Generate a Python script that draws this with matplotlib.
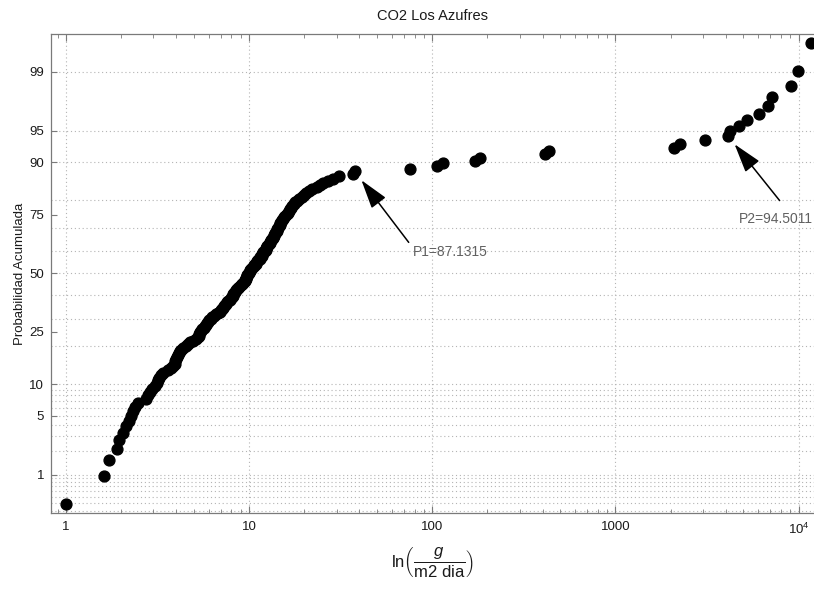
import numpy as np
import matplotlib
matplotlib.use("Agg")
import matplotlib.pyplot as plt
from matplotlib.ticker import FixedLocator, FixedFormatter, LogLocator, NullFormatter
from statistics import NormalDist

plt.rcParams['font.family'] = ['Liberation Sans', 'DejaVu Sans']
plt.rcParams['mathtext.fontset'] = 'custom'
plt.rcParams['mathtext.rm'] = 'Liberation Sans'
plt.rcParams['mathtext.it'] = 'Liberation Sans:italic'

# Sorted CO2 flux values (g / m2 dia)
flux = [
    1.00, 1.61, 1.72, 1.90, 1.95, 2.05, 2.13, 2.21, 2.27, 2.33,
    2.39, 2.48, 2.74, 2.81, 2.88, 2.96, 3.07, 3.15, 3.19, 3.23,
    3.31, 3.40, 3.62, 3.76, 3.85, 3.95, 3.95, 4.00, 4.05, 4.10,
    4.16, 4.21, 4.26, 4.37, 4.54, 4.65, 4.77, 4.96, 5.15, 5.28,
    5.35, 5.35, 5.41, 5.48, 5.55, 5.69, 5.77, 5.84, 5.91, 5.99,
    6.06, 6.22, 6.30, 6.46, 6.62, 6.79, 6.97, 7.05, 7.14, 7.23,
    7.33, 7.42, 7.51, 7.61, 7.70, 7.90, 8.00, 8.10, 8.21, 8.21,
    8.31, 8.41, 8.52, 8.63, 8.74, 8.85, 9.08, 9.19, 9.31, 9.43,
    9.54, 9.67, 9.67, 9.79, 9.79, 9.91, 10.04, 10.16, 10.16, 10.29,
    10.42, 10.56, 10.69, 10.83, 10.96, 11.10, 11.24, 11.39, 11.53, 11.68,
    11.68, 11.82, 11.97, 12.13, 12.28, 12.28, 12.44, 12.59, 12.76, 12.92,
    12.92, 13.08, 13.25, 13.42, 13.59, 13.59, 13.76, 13.93, 14.11, 14.11,
    14.29, 14.47, 14.65, 14.65, 14.84, 15.03, 15.22, 15.41, 15.61, 16.00,
    16.20, 16.41, 16.62, 16.83, 17.04, 17.48, 17.70, 18.15, 18.62, 19.33,
    19.83, 20.33, 21.11, 21.93, 23.36, 24.26, 25.19, 26.83, 28.58, 30.83,
    36.8, 37.7, 75.4, 106, 114, 171, 182, 413, 435, 2100,
    2240, 3070, 4100, 4200, 4710, 5200, 6060, 6780, 7130, 9060,
    9900, 11670,
]

ytick_probs = [1, 5, 10, 25, 50, 75, 90, 95, 99]
ygrid_probs = [0.3, 0.4, 0.5, 0.6, 0.7, 0.8, 0.9,
               1, 2, 3, 4, 5, 6, 7, 8, 9,
               10, 20, 30, 40, 50, 60, 70, 80, 90, 95, 99]
xtick_vals = [1, 10, 100, 1000, 10000]
xtick_labels = ['1', '10', '100', '1000', r'$10^4$']

title = 'CO2 Los Azufres'
ylabel = 'Probabilidad Acumulada'
xlabel = r'$\mathrm{ln}\left(\dfrac{g}{\mathrm{m2\ dia}}\right)$'
p1_label = 'P1=87.1315'
p2_label = 'P2=94.5011'
p1_rank = 152
p2_rank = 163

nd = NormalDist()
n = len(flux)
a = 0.33
ranks = np.arange(1, n + 1)
prob = (ranks - a) / (n + 1 - 2 * a)
zq = np.array([nd.inv_cdf(p) for p in prob])

fig = plt.figure(figsize=(8.14, 5.91), dpi=100)
ax = fig.add_axes([0.0627, 0.132, 0.937, 0.8105])

ax.set_xscale('log')
ax.set_xlim(0.828, 12110)
ax.set_ylim(-2.765, 2.760)

gridc = '#b4b4b4'
for gp in ygrid_probs:
    ax.axhline(nd.inv_cdf(gp / 100.0), color=gridc, ls=(0, (1, 2.5)), lw=0.8, zorder=0)
for xv in xtick_vals:
    ax.axvline(xv, color=gridc, ls=(0, (1, 2.5)), lw=0.8, zorder=0)

ax.plot(flux, zq, 'o', color='black', ms=7.8, mec='black', zorder=3, clip_on=False)

ax.yaxis.set_major_locator(FixedLocator([nd.inv_cdf(p / 100.0) for p in ytick_probs]))
ax.yaxis.set_major_formatter(FixedFormatter([str(p) for p in ytick_probs]))
ax.xaxis.set_major_locator(FixedLocator(xtick_vals))
ax.xaxis.set_major_formatter(FixedFormatter(xtick_labels))
ax.xaxis.set_minor_locator(LogLocator(base=10, subs=np.arange(2, 10)))
ax.xaxis.set_minor_formatter(NullFormatter())

spc = '#7a7a7a'
for s in ['left', 'bottom', 'top']:
    ax.spines[s].set_color(spc)
    ax.spines[s].set_linewidth(0.9)
ax.spines['right'].set_visible(False)

ax.tick_params(axis='both', which='both', direction='in', colors=spc,
               labelcolor='#1a1a1a', labelsize=9.5)
ax.tick_params(axis='x', which='both', top=True)
ax.tick_params(axis='x', which='major', length=5, pad=6)
ax.tick_params(axis='x', which='minor', length=3)
ax.tick_params(axis='y', which='major', length=4, pad=5)

ax.set_title(title, fontsize=10.5, color='#1a1a1a', pad=10)
ax.set_ylabel(ylabel, fontsize=9.5, color='#1a1a1a', labelpad=2)
ax.set_xlabel(xlabel, fontsize=12, color='#1a1a1a', labelpad=6)

arrow = dict(arrowstyle='-|>,head_length=1.8,head_width=0.55', color='black',
             lw=1.1, shrinkA=0, shrinkB=8, mutation_scale=10)

i1 = p1_rank - 1
ax.annotate('', xy=(flux[i1], zq[i1]), xytext=(54, -71), textcoords='offset pixels',
            arrowprops=arrow)
ax.annotate(p1_label, xy=(flux[i1], zq[i1]), xytext=(58, -81), textcoords='offset pixels',
            ha='left', va='center', fontsize=10, color='#606060')

i2 = p2_rank - 1
ax.annotate('', xy=(flux[i2], zq[i2]), xytext=(52, -65), textcoords='offset pixels',
            arrowprops=arrow)
ax.annotate(p2_label, xy=(flux[i2], zq[i2]), xytext=(11, -83), textcoords='offset pixels',
            ha='left', va='center', fontsize=10, color='#606060')

fig.savefig('out.png', dpi=100)
